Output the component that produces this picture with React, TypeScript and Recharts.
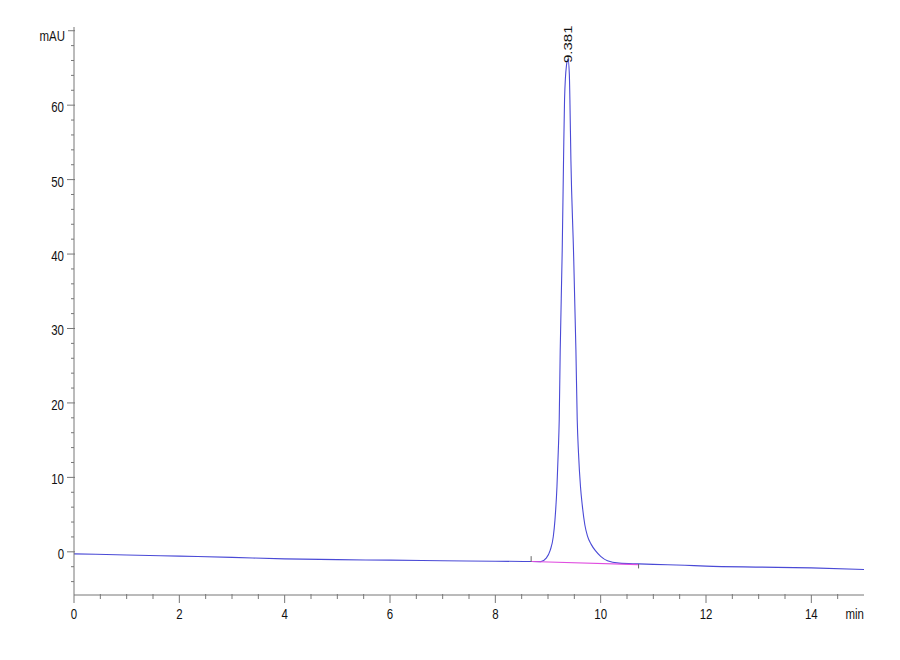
import React from 'react';
import { LineChart, Line, XAxis, YAxis, ReferenceLine, ReferenceDot } from 'recharts';

// Chromatogram signal (time in min, absorbance in mAU)
const signalTimes = [
  0, 1, 2, 3, 4, 5, 6, 7, 8, 8.6, 8.866, 8.961, 9.043, 9.1, 9.132, 9.17, 9.194, 9.213,
  9.232, 9.27, 9.295, 9.314, 9.35, 9.381, 9.405, 9.416, 9.435, 9.484, 9.53, 9.555, 9.579,
  9.617, 9.65, 9.7, 9.75, 9.82, 9.9, 10.0, 10.129, 10.35, 10.72, 11, 11.6, 12, 13, 14, 15,
];
const signalValues = [
  -0.27, -0.42, -0.58, -0.75, -0.95, -1.05, -1.12, -1.2, -1.26, -1.3, -1.32, -0.89, 0.23, 2.02, 4.26,
  8.74, 13.3, 17.7, 27.1, 40.5, 52.6, 60.7, 65.3, 66.2, 64.2, 60.7, 52.6, 40.5, 27.1, 17.7, 13.3,
  8.74, 6.3, 3.6, 2.1, 1.0, 0.15, -0.6, -1.2, -1.52, -1.62, -1.68, -1.8, -1.92, -2.05, -2.15, -2.37,
];

// Integration baseline of the peak
const baselineTimes = [8.68, 10.72];
const baselineValues = [-1.3, -1.72];

// Peak annotation
const peakTime = 9.381;
const peakHeight = 66.2;
const peakLabel = '9.381';

// Axis ticks
const xTicks = [
  0, 0.5, 1, 1.5, 2, 2.5, 3, 3.5, 4, 4.5, 5, 5.5, 6, 6.5, 7, 7.5, 8, 8.5, 9, 9.5, 10,
  10.5, 11, 11.5, 12, 12.5, 13, 13.5, 14, 14.5, 15,
];
const xMajorTicks = [0, 2, 4, 6, 8, 10, 12, 14];
const xUnitLabel = 'min';
const yTicks = [
  -4, -2, 0, 2, 4, 6, 8, 10, 12, 14, 16, 18, 20, 22, 24, 26, 28, 30, 32, 34, 36, 38, 40,
  42, 44, 46, 48, 50, 52, 54, 56, 58, 60, 62, 64, 66, 68, 70,
];
const yMajorTicks = [0, 10, 20, 30, 40, 50, 60];
const yUnitLabel = 'mAU';

const signalData = signalTimes.map((t, i) => ({ t, v: signalValues[i] }));
const baselineData = baselineTimes.map((t, i) => ({ t, v: baselineValues[i] }));

const FONT = '"Liberation Sans", Arial, sans-serif';
const TEXT = '#111';
const AXIS = '#777';
const FS = 15.5;
const SX = 0.74;

const YTick = (props: any) => {
  const { x, y, payload } = props;
  const v = payload.value;
  if (v === 70) {
    return (
      <g>
        <line x1={x - 6} x2={x + 1} y1={y} y2={y} stroke={AXIS} />
        <text transform={`translate(${x - 9},${y + 10}) scale(${SX},1)`} textAnchor="end" fontSize={FS} fontFamily={FONT} fill={TEXT}>
          {yUnitLabel}
        </text>
      </g>
    );
  }
  if (yMajorTicks.includes(v)) {
    return (
      <g>
        <line x1={x - 7} x2={x + 1} y1={y} y2={y} stroke={AXIS} />
        <text transform={`translate(${x - 10},${y + 7}) scale(${SX},1)`} textAnchor="end" fontSize={FS} fontFamily={FONT} fill={TEXT}>
          {String(v)}
        </text>
      </g>
    );
  }
  return <line x1={x - 3} x2={x} y1={y} y2={y} stroke={AXIS} />;
};

const XTick = (props: any) => {
  const { x, y, payload } = props;
  const v = payload.value;
  if (v === 15) {
    return (
      <text transform={`translate(${x},${y + 24}) scale(${SX},1)`} textAnchor="end" fontSize={FS} fontFamily={FONT} fill={TEXT}>
        {xUnitLabel}
      </text>
    );
  }
  if (xMajorTicks.includes(v)) {
    return (
      <g>
        <line x1={x} x2={x} y1={y} y2={y + 8} stroke={AXIS} />
        <text transform={`translate(${x},${y + 24}) scale(${SX},1)`} textAnchor="middle" fontSize={FS} fontFamily={FONT} fill={TEXT}>
          {String(v)}
        </text>
      </g>
    );
  }
  return <line x1={x} x2={x} y1={y - 1} y2={y + 4} stroke={AXIS} />;
};

const PeakLabel = (props: any) => {
  const { cx, cy } = props;
  return (
    <text
      transform={`translate(${cx + 3.9},${cy + 4}) scale(${SX},1) rotate(-90)`}
      textAnchor="start"
      fontSize={15}
      fontFamily={FONT}
      fill={TEXT}
    >
      {peakLabel}
    </text>
  );
};

export default function App() {
  return (
    <LineChart width={884} height={644} margin={{ top: 19, right: 28, left: 6, bottom: 17 }}>
      <XAxis
        dataKey="t"
        type="number"
        domain={[0, 15]}
        ticks={xTicks}
        interval={0}
        tickSize={0}
        tickMargin={0}
        tickLine={false}
        tick={<XTick />}
        height={40}
        stroke={AXIS}
        allowDataOverflow
      />
      <YAxis
        dataKey="v"
        type="number"
        domain={[-5.8, 70.5]}
        ticks={yTicks}
        interval={0}
        tickSize={0}
        tickMargin={0}
        tickLine={false}
        tick={<YTick />}
        width={60}
        stroke={AXIS}
        allowDataOverflow
      />
      <Line
        data={signalData}
        dataKey="v"
        type="monotone"
        stroke="#4a4ad6"
        strokeWidth={1.1}
        dot={false}
        activeDot={false}
        isAnimationActive={false}
      />
      <Line
        data={baselineData}
        dataKey="v"
        type="linear"
        stroke="#e04ee0"
        strokeWidth={1.2}
        dot={false}
        activeDot={false}
        isAnimationActive={false}
      />
      <ReferenceLine segment={[{ x: 8.68, y: -0.58 }, { x: 8.68, y: -1.34 }]} stroke="#666" />
      <ReferenceLine segment={[{ x: 10.72, y: -1.65 }, { x: 10.72, y: -2.23 }]} stroke="#666" />
      <ReferenceDot x={peakTime} y={peakHeight} r={0} shape={<PeakLabel />} />
    </LineChart>
  );
}
